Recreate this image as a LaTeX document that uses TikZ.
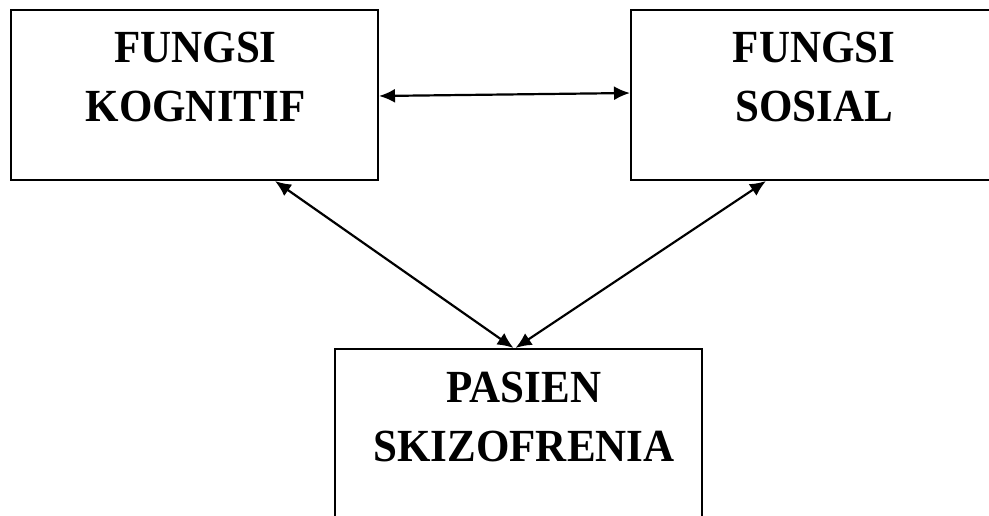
\documentclass[tikz,border=0pt]{standalone}
\usepackage{fontspec}
\setmainfont{Liberation Serif}
\usetikzlibrary{arrows.meta}
\newcommand{\tallbox}[1]{\scalebox{1}[1.07]{#1}}
\begin{document}
\begin{tikzpicture}[x=1pt,y=-1pt,
 box/.style={draw,line width=2pt,rectangle,inner sep=0pt,minimum width=367pt},
 lbl/.style={font=\fontsize{43}{59}\selectfont\bfseries,align=center,inner sep=0pt,anchor=north},
 link/.style={line width=2.2pt,{Latex[length=16pt,width=14pt]}-{Latex[length=16pt,width=14pt]}}]
\useasboundingbox (0,0) rectangle (989,515);
\node[box,minimum height=170pt] (kog) at (194.5,95) {};
\node[box,minimum height=170pt,minimum width=366pt] (sos) at (814,95) {};
\node[box,minimum height=200pt] (pas) at (518.5,449) {};
\node[lbl] (kogt) at (195.5,32) {\tallbox{FUNGSI}\\\tallbox{KOGNITIF}};
\node[lbl] (sost) at (814,32) {\tallbox{FUNGSI}\\\tallbox{SOSIAL}};
\node[lbl] (past) at (524,372) {\tallbox{PASIEN}\\\tallbox{SKIZOFRENIA}};
\draw[link] ([yshift=-1pt]kog.east) -- ([yshift=2pt]sos.west);
\draw[link] ([xshift=80.5pt]kog.south) -- ([xshift=-5pt]pas.north);
\draw[link] ([xshift=-48pt]sos.south) -- ([xshift=-3pt]pas.north);
\end{tikzpicture}
\end{document}
